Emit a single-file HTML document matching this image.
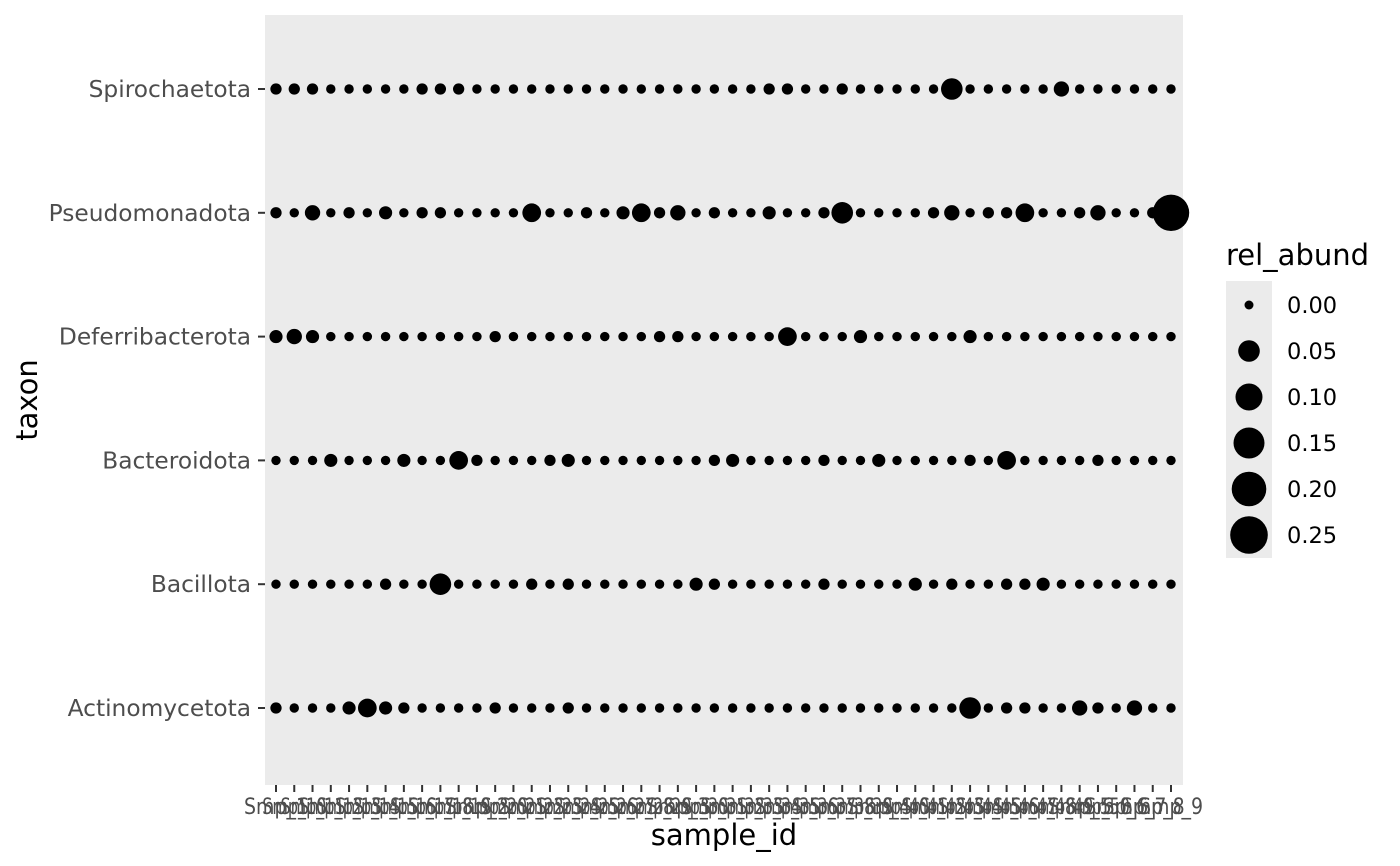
<!DOCTYPE html>
<html><head><meta charset="utf-8"><style>
body{margin:0;background:#fff;}
svg{display:block;font-family:"DejaVu Sans","Liberation Sans",sans-serif;}
</style></head><body>
<svg id="chart" width="1400" height="866">
<rect x="0" y="0" width="1400" height="866" fill="#fff"/>
<rect x="265" y="15" width="918" height="770" fill="#ebebeb"/>
<g id="marks"></g>
<g id="yaxis"></g>
<g id="xaxis"></g>
<text x="724" y="845" font-size="29" text-anchor="middle" fill="#000">sample_id</text>
<text transform="translate(37,400) rotate(-90)" font-size="29" text-anchor="middle" fill="#000">taxon</text>
<g id="legend">
<text x="1226" y="265" font-size="29" fill="#000">rel_abund</text>
<rect x="1226" y="281" width="46" height="277" fill="#ebebeb"/>
</g>
</svg>
<script>
const taxa = ["Actinomycetota","Bacillota","Bacteroidota","Deferribacterota","Pseudomonadota","Spirochaetota"];
const nSamples = 50;
const sampleLabels = Array.from({length:nSamples},(_, i)=>"Smp_"+(i+1)).sort();
// abundance codes per taxon
const levelValues = [0.001,0.006,0.012,0.02,0.035,0.05];
const actinoCodes  = [1,0,0,0,2,4,2,1,0,0,0,0,1,0,0,0,1,0,0,0,0,0,0,0,0, 0,0,0,0,0,0,0,0,0,0,0,0,0,5,0,1,1,0,0,3,1,0,3,0,0];
const bacilCodes   = [0,0,0,0,0,0,1,0,0,5,0,0,0,0,1,0,1,0,0,0,0,0,0,2,1, 0,0,0,0,0,1,0,0,0,0,2,0,1,0,0,1,1,2,0,0,0,0,0,0,0];
const bacteroCodes = [0,0,0,2,0,0,0,2,0,0,4,1,0,0,0,1,2,0,0,0,0,0,0,0,1, 2,0,0,0,0,1,0,0,2,0,0,0,0,1,0,4,0,0,0,0,1,0,0,0,0];
const deferCodes   = [2,3,2,0,0,0,0,0,0,0,0,0,1,0,0,0,0,0,0,0,0,1,1,0,0, 0,0,0,4,0,0,0,2,0,0,0,0,0,2,0,0,0,0,0,0,0,0,0,0,0];
const pseudoCodes  = [1,0,3,0,1,0,2,0,1,1,0,0,0,0,4,0,0,1,0,2,4,1,3,0,1, 0,0,2,0,0,1,5,0,0,0,0,1,3,0,1,1,4,0,0,1,3,0,0,1,6];
const spiroCodes   = [1,1,1,0,0,0,0,0,1,1,1,0,0,0,0,0,0,0,0,0,0,0,0,0,0, 0,0,1,1,0,0,1,0,0,0,0,0,5,0,0,0,0,0,3,0,0,0,0,0,0];
const bigValue = 0.23;
const legendBreaks = [0.00,0.05,0.10,0.15,0.20,0.25];
const legendRadii = [4.5,10.8,13.5,15.5,17.3,18.8];

const NS="http://www.w3.org/2000/svg";
function toVal(c){return c===6?bigValue:levelValues[c];}
const seriesValues=[actinoCodes,bacilCodes,bacteroCodes,deferCodes,pseudoCodes,spiroCodes].map(a=>a.map(toVal));
function xScale(i){return 276+i*(1171-276)/(nSamples-1);}
function yScale(t){return 708-t*(708-89)/(taxa.length-1);}
function rScale(v){
  for(let k=1;k<legendBreaks.length;k++){
    if(v<=legendBreaks[k]||k===legendBreaks.length-1){
      const a=legendBreaks[k-1],b=legendBreaks[k];
      const ra=legendRadii[k-1]**2,rb=legendRadii[k]**2;
      return Math.sqrt(Math.max(1,ra+(rb-ra)*(v-a)/(b-a)));
    }
  }
}
const marks=document.getElementById('marks');
seriesValues.forEach((arr,t)=>{arr.forEach((v,i)=>{
  const c=document.createElementNS(NS,'circle');
  c.setAttribute('cx',xScale(i));c.setAttribute('cy',yScale(t));c.setAttribute('r',rScale(v));c.setAttribute('fill','#000');
  
  
  marks.appendChild(c);
});});
const ya=document.getElementById('yaxis');
taxa.forEach((t,k)=>{
  const y=yScale(k);
  const l=document.createElementNS(NS,'line');
  l.setAttribute('x1',258);l.setAttribute('x2',265);l.setAttribute('y1',y);l.setAttribute('y2',y);l.setAttribute('stroke','#333');l.setAttribute('stroke-width','2');
  
  
  ya.appendChild(l);
  const tx=document.createElementNS(NS,'text');
  tx.setAttribute('x',251);tx.setAttribute('y',y+8);tx.setAttribute('text-anchor','end');tx.setAttribute('font-size','23.3');tx.setAttribute('fill','#4d4d4d');
  tx.textContent=t;
  
  
  ya.appendChild(tx);
});
const xa=document.getElementById('xaxis');
sampleLabels.forEach((s,i)=>{
  const x=xScale(i);
  const l=document.createElementNS(NS,'line');
  l.setAttribute('x1',x);l.setAttribute('x2',x);l.setAttribute('y1',785);l.setAttribute('y2',792);l.setAttribute('stroke','#333');l.setAttribute('stroke-width','2');
  
  
  xa.appendChild(l);
  const tx=document.createElementNS(NS,'text');
  tx.setAttribute('x',x);tx.setAttribute('y',814);tx.setAttribute('text-anchor','middle');tx.setAttribute('font-size','22');tx.setAttribute('fill','#4d4d4d');
  tx.setAttribute('textLength','64');tx.setAttribute('lengthAdjust','spacingAndGlyphs');
  tx.textContent=s;
  
  
  xa.appendChild(tx);
});
const lg=document.getElementById('legend');
legendBreaks.forEach((b,k)=>{
  const y=305+k*46;
  const c=document.createElementNS(NS,'circle');
  c.setAttribute('cx',1249);c.setAttribute('cy',y);c.setAttribute('r',rScale(b));c.setAttribute('fill','#000');
  
  
  lg.appendChild(c);
  const tx=document.createElementNS(NS,'text');
  tx.setAttribute('x',1287);tx.setAttribute('y',y+8);tx.setAttribute('font-size','22.5');tx.setAttribute('fill','#000');
  tx.textContent=b.toFixed(2);
  
  
  lg.appendChild(tx);
});
</script>
</body></html>
